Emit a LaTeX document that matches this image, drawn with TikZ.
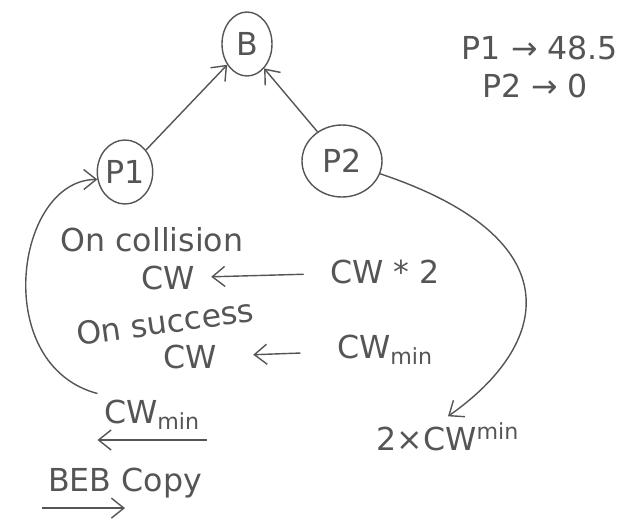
\documentclass[tikz,border=0pt]{standalone}
\usepackage{fontspec}
\setmainfont{DejaVu Sans}
\usetikzlibrary{arrows.meta,shapes.geometric}
\definecolor{pen}{RGB}{85,85,85}

\begin{document}
\begin{tikzpicture}[color=pen, line width=0.8pt,
    >={Straight Barb[length=2.5mm,width=4mm]},
    blob/.style={ellipse, draw, inner sep=0pt},
    hand/.style={font=\fontsize{18}{22}\selectfont}]
  \useasboundingbox (0,0) rectangle (12.84,-10.44);
  % stations
  \node[blob, hand, minimum width=1.0cm, minimum height=1.28cm] (B) at (4.94,-0.88) {B};
  \node[blob, hand, minimum width=1.08cm, minimum height=1.28cm] (P1) at (2.5,-3.44) {P1};
  \node[blob, hand, minimum width=1.6cm, minimum height=1.44cm] (P2) at (6.84,-3.22) {P2};
  \draw[->] (P1) -- (B);
  \draw[->] (P2.130) -- (B.-55);
  % tally
  \node[hand] (t1) at (10.8,-0.96) {P1 → 48.5};
  \node[hand] (t2) at (10.7,-1.72) {P2 → 0};
  % rules
  \node[hand] (col) at (3.04,-4.8) {On collision};
  \node[hand] (cwa) at (3.36,-5.56) {CW};
  \node[hand] (cwb) at (7.7,-5.44) {CW * 2};
  \draw[->, shorten <=0.4cm, shorten >=0.2cm] (cwb) -- (cwa);
  \node[hand, rotate=8] (suc) at (3.3,-6.44) {On success};
  \node[hand] (cwc) at (3.8,-7.14) {CW};
  \node[hand] (cwd) at (7.7,-7.0) {CW\textsubscript{min}};
  \draw[->, shorten <=0.6cm, shorten >=0.6cm] (cwd) -- (cwc);
  % reset values
  \node[hand] (minl) at (3.04,-8.3) {CW\textsubscript{min}};
  \node[hand] (minr) at (8.96,-8.74) {2×CW\textsuperscript{min}};
  \draw[->] (minl.north west) .. controls (-0.2,-7.3) and (0.3,-3.6) .. (P1.195);
  \draw[->] (P2) .. controls (11.5,-4.78) and (11.0,-6.9) .. (minr.north);
  \draw[<-] ([yshift=-2pt]minl.south west) -- ([yshift=-2pt]minl.south east);
  \node[hand] (beb) at (2.5,-9.66) {BEB Copy};
  \draw[->] ([yshift=-2pt]beb.south west) -- ([yshift=-2pt]beb.south);
\end{tikzpicture}
\end{document}
